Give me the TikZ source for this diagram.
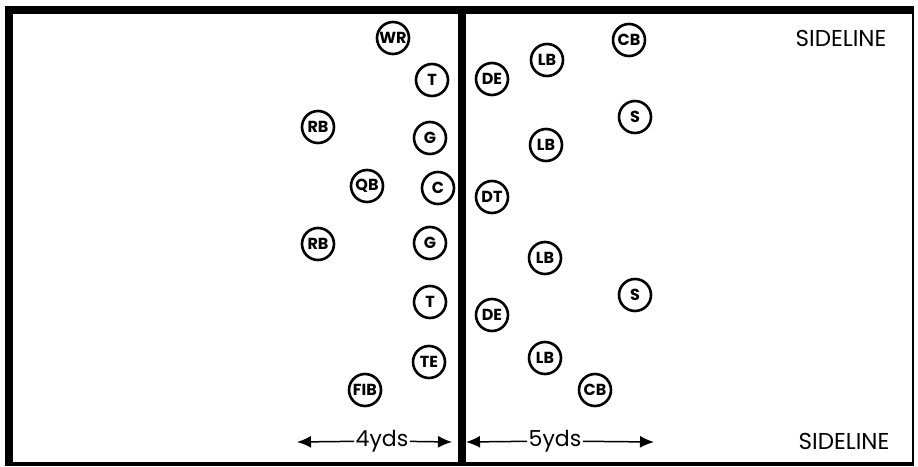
\documentclass[tikz,border=0pt]{standalone}
\usepackage{fontspec}
\setmainfont{Poppins}
\usetikzlibrary{arrows.meta}
\tikzset{player/.style={circle,draw,line width=2.6pt,minimum size=32pt,inner sep=0pt,font=\bfseries\fontsize{16}{16}\selectfont},
yardarrow/.style={-{Latex[length=14pt,width=12pt]},line width=1.5pt}}
\begin{document}
\begin{tikzpicture}[x=1pt,y=-1pt]
\useasboundingbox (0,0) rectangle (918,466);
\draw[line width=8pt] (9,464) -- (9,10) -- (914,10); % field edges
\draw[line width=2pt] (913,10) -- (913,464);
\draw[line width=4pt] (5,464) -- (914,464);
\draw[line width=8pt] (462,10) -- (462,464); % line of scrimmage
\foreach \lbl/\x/\y [count=\i] in {WR/393/38, T/432/80, RB/318/127, G/430/138, QB/367/186, C/438/188, RB/318/244, G/430/243, T/430/302, TE/429/362, FIB/365/390} % offense
\node[player] (off\i) at (\x,\y) {\lbl};
\foreach \lbl/\x/\y [count=\i] in {CB/629/40, LB/547/60, DE/492/79, S/635/117, LB/546/145, DT/492/197, LB/545/258, S/635/295, DE/492/315, LB/545/358, CB/595/390} % defense
\node[player] (def\i) at (\x,\y) {\lbl};
\node[font=\fontsize{23}{23}\selectfont] (side1) at (841,38) {SIDELINE};
\node[font=\fontsize{23}{23}\selectfont] (side2) at (844,441) {SIDELINE};
\coordinate (l4) at (297,442);
\coordinate (r4) at (452,442);
\coordinate (l5) at (466,442);
\coordinate (r5) at (654,442);
\node[inner sep=1.5pt,font=\fontsize{22}{22}\selectfont] (yd4) at (382,441) {4yds};
\node[inner sep=1.5pt,font=\fontsize{22}{22}\selectfont] (yd5) at (555,441) {5yds};
\draw[yardarrow] (yd4) -- (l4);
\draw[yardarrow] (yd4) -- (r4);
\draw[yardarrow] (yd5) -- (l5);
\draw[yardarrow] (yd5) -- (r5);
\end{tikzpicture}
\end{document}
